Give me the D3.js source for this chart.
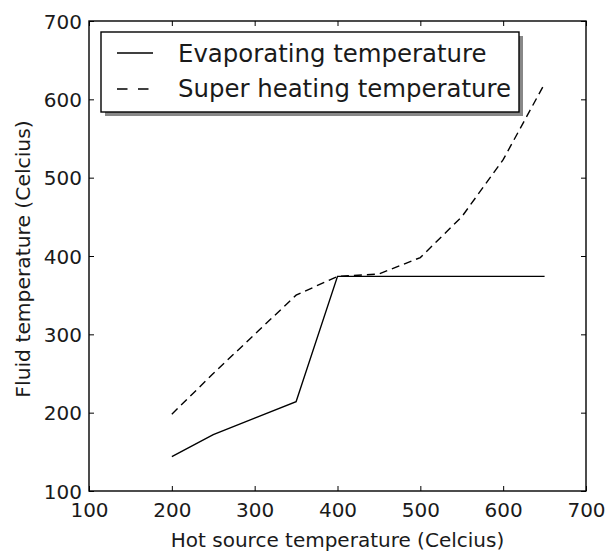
<!DOCTYPE html>
<html><head><meta charset="utf-8">
<script src="https://cdn.jsdelivr.net/npm/d3@7"></script>
<style>body{margin:0;background:#fff}text{font-family:"DejaVu Sans",sans-serif;fill:#1a1a1a}</style>
</head><body><svg id="c" width="615" height="552"></svg>
<script>
const hotSource = [200,250,300,350,400,450,500,550,600,650];
const evaporating = [144,172,193,214,374,374,374,374,374,374];
const superHeating = [198,250,300,350,374,377,398,450,523,620];
const xTicks = [100,200,300,400,500,600,700];
const yTicks = [100,200,300,400,500,600,700];
const seriesNames = ["Evaporating temperature","Super heating temperature"];

const svg = d3.select("#c");
const L=89,R=586,T=21,B=491;
const x = d3.scaleLinear().domain([100,700]).range([L,R]);
const y = d3.scaleLinear().domain([100,700]).range([B,T]);

const line = d3.line().x((d,i)=>x(hotSource[i])).y(d=>y(d));
svg.append("path").attr("d",line(evaporating)).attr("fill","none").attr("stroke","#000").attr("stroke-width",1.4);
svg.append("path").attr("d",line(superHeating)).attr("fill","none").attr("stroke","#000").attr("stroke-width",1.4).attr("stroke-dasharray","8,5");

// axes
const fs=20;
const gB = svg.append("g").attr("transform",`translate(0,${B})`).call(d3.axisBottom(x).tickValues(xTicks).tickSize(-5).tickPadding(0).tickFormat(d3.format("d")));
const gT = svg.append("g").attr("transform",`translate(0,${T})`).call(d3.axisTop(x).tickValues(xTicks).tickSize(-5).tickFormat(""));
const gL = svg.append("g").attr("transform",`translate(${L},0)`).call(d3.axisLeft(y).tickValues(yTicks).tickSize(-5).tickPadding(7).tickFormat(d3.format("d")));
const gR = svg.append("g").attr("transform",`translate(${R},0)`).call(d3.axisRight(y).tickValues(yTicks).tickSize(-5).tickFormat(""));
[gB,gT,gL,gR].forEach(g=>{g.selectAll(".domain").remove();g.selectAll("line").attr("stroke","#000");g.selectAll("text").attr("font-size",fs).attr("font-family","DejaVu Sans").attr("fill","#1a1a1a");});
gB.selectAll("text").attr("y",26).attr("dy",null);
gL.selectAll("text").attr("dy","0.36em");
svg.append("rect").attr("x",L).attr("y",T).attr("width",R-L).attr("height",B-T).attr("fill","none").attr("stroke","#000").attr("stroke-width",1.4);

svg.append("text").attr("x",(L+R)/2).attr("y",547).attr("text-anchor","middle").attr("font-size",20).text("Hot source temperature (Celcius)");
svg.append("text").attr("transform",`translate(30,${(T+B)/2 + 3}) rotate(-90)`).attr("text-anchor","middle").attr("font-size",20.3).text("Fluid temperature (Celcius)");

// legend
const lx=101,ly=32,lw=418,lh=80;
svg.append("rect").attr("x",lx+4).attr("y",ly+4).attr("width",lw).attr("height",lh).attr("fill","#888");
svg.append("rect").attr("x",lx).attr("y",ly).attr("width",lw).attr("height",lh).attr("fill","#fff").attr("stroke","#000").attr("stroke-width",1.4);
const rows=[{name:seriesNames[0],dash:null,cy:53,base:62},{name:seriesNames[1],dash:"10.5,10.5",cy:89,base:97}];
rows.forEach(r=>{
  svg.append("line").attr("x1",117).attr("x2",153).attr("y1",r.cy).attr("y2",r.cy).attr("stroke","#000").attr("stroke-width",1.4).attr("stroke-dasharray",r.dash);
  svg.append("text").attr("x",178).attr("y",r.base).attr("font-size",24.4).text(r.name);
});
</script></body></html>
